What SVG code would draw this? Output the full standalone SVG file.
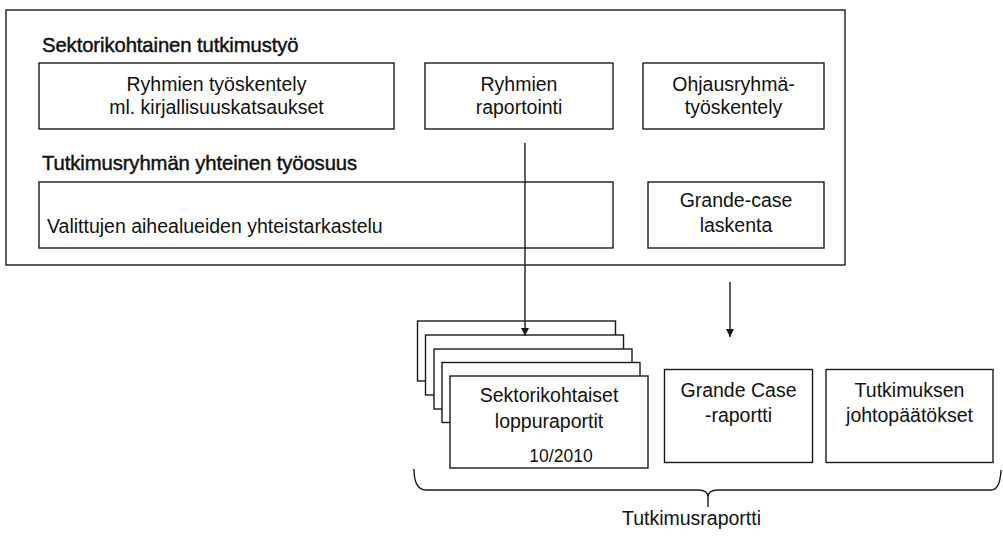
<svg xmlns="http://www.w3.org/2000/svg" width="1003" height="540" viewBox="0 0 1003 540">
  <style>
    .box { fill: #fff; stroke: #1a1a1a; stroke-width: 1.4; }
    .frame { fill: none; stroke: #1a1a1a; stroke-width: 1.4; }
    .lbl { font-family: "Liberation Sans", Arial, sans-serif; font-size: 19.5px; fill: #111; text-anchor: middle; }
    .left { text-anchor: start; }
    .head { font-family: "Liberation Sans", Arial, sans-serif; font-size: 20.3px; fill: #111; stroke: #111; stroke-width: 0.45; letter-spacing: -0.1px; }
    .small { font-size: 17.5px; }
    .conn { fill: none; stroke: #1a1a1a; stroke-width: 1.4; }
  </style>
  <defs>
    <marker id="arrow" viewBox="0 0 10 10" refX="10" refY="5" markerWidth="6" markerHeight="6" orient="auto" markerUnits="strokeWidth">
      <path d="M0,0 L10,5 L0,10 Z" fill="#1a1a1a"/>
    </marker>
  </defs>

  <rect width="1003" height="540" fill="#fff"/>

  <!-- research work frame -->
  <g id="research-frame">
    <rect class="frame" x="6" y="10" width="839" height="255"/>
    <text class="head" x="42" y="52">Sektorikohtainen tutkimustyö</text>
    <text class="head" x="42" y="170">Tutkimusryhmän yhteinen työosuus</text>
  </g>

  <g id="group-work">
    <rect class="box" x="39" y="63" width="355" height="66"/>
    <text class="lbl" x="216.5" y="90.5">Ryhmien työskentely</text>
    <text class="lbl" x="216.5" y="114">ml. kirjallisuuskatsaukset</text>
  </g>

  <g id="group-reporting">
    <rect class="box" x="425" y="63" width="188" height="66"/>
    <text class="lbl" x="519" y="90.5">Ryhmien</text>
    <text class="lbl" x="519" y="114">raportointi</text>
  </g>

  <g id="steering-group">
    <rect class="box" x="643" y="63" width="181" height="66"/>
    <text class="lbl" x="733.5" y="90.5">Ohjausryhmä-</text>
    <text class="lbl" x="733.5" y="114">työskentely</text>
  </g>

  <g id="joint-review">
    <rect class="box" x="39" y="182" width="574" height="66"/>
    <text class="lbl left" x="47" y="233">Valittujen aihealueiden yhteistarkastelu</text>
  </g>

  <g id="grande-case-calc">
    <rect class="box" x="648" y="182" width="176" height="66"/>
    <text class="lbl" x="736" y="207">Grande-case</text>
    <text class="lbl" x="736" y="232">laskenta</text>
  </g>

  <!-- stacked sector reports -->
  <g id="sector-reports">
    <rect class="box" x="417.5" y="321" width="198" height="60"/>
    <rect class="box" x="425.5" y="335" width="198" height="60"/>
    <rect class="box" x="434" y="349" width="198" height="60"/>
    <rect class="box" x="442" y="362.5" width="198" height="60"/>
    <rect class="box" x="450" y="376" width="198" height="92"/>
    <text class="lbl" x="549" y="402">Sektorikohtaiset</text>
    <text class="lbl" x="549" y="428">loppuraportit</text>
    <text class="lbl small" x="561" y="462">10/2010</text>
  </g>

  <g id="grande-case-report">
    <rect class="box" x="664.5" y="369.5" width="148" height="93"/>
    <text class="lbl" x="738.5" y="397">Grande Case</text>
    <text class="lbl" x="738.5" y="422">-raportti</text>
  </g>

  <g id="conclusions">
    <rect class="box" x="826" y="369.5" width="167" height="93"/>
    <text class="lbl" x="909.5" y="397">Tutkimuksen</text>
    <text class="lbl" x="909.5" y="422">johtopäätökset</text>
  </g>

  <g id="research-report">
    <text class="lbl" x="691.5" y="525">Tutkimusraportti</text>
  </g>

  <!-- connectors -->
  <g id="connectors">
    <line class="conn" x1="525" y1="143" x2="525" y2="336" marker-end="url(#arrow)"/>
    <line class="conn" x1="730" y1="282" x2="730" y2="337" marker-end="url(#arrow)"/>
    <path class="conn" d="M414,469 Q414,490 426,490 H698 Q708,490 708,497 V507 M708,497 Q708,490 718,490 H991 Q1000,490 1001,470"/>
  </g>
</svg>
